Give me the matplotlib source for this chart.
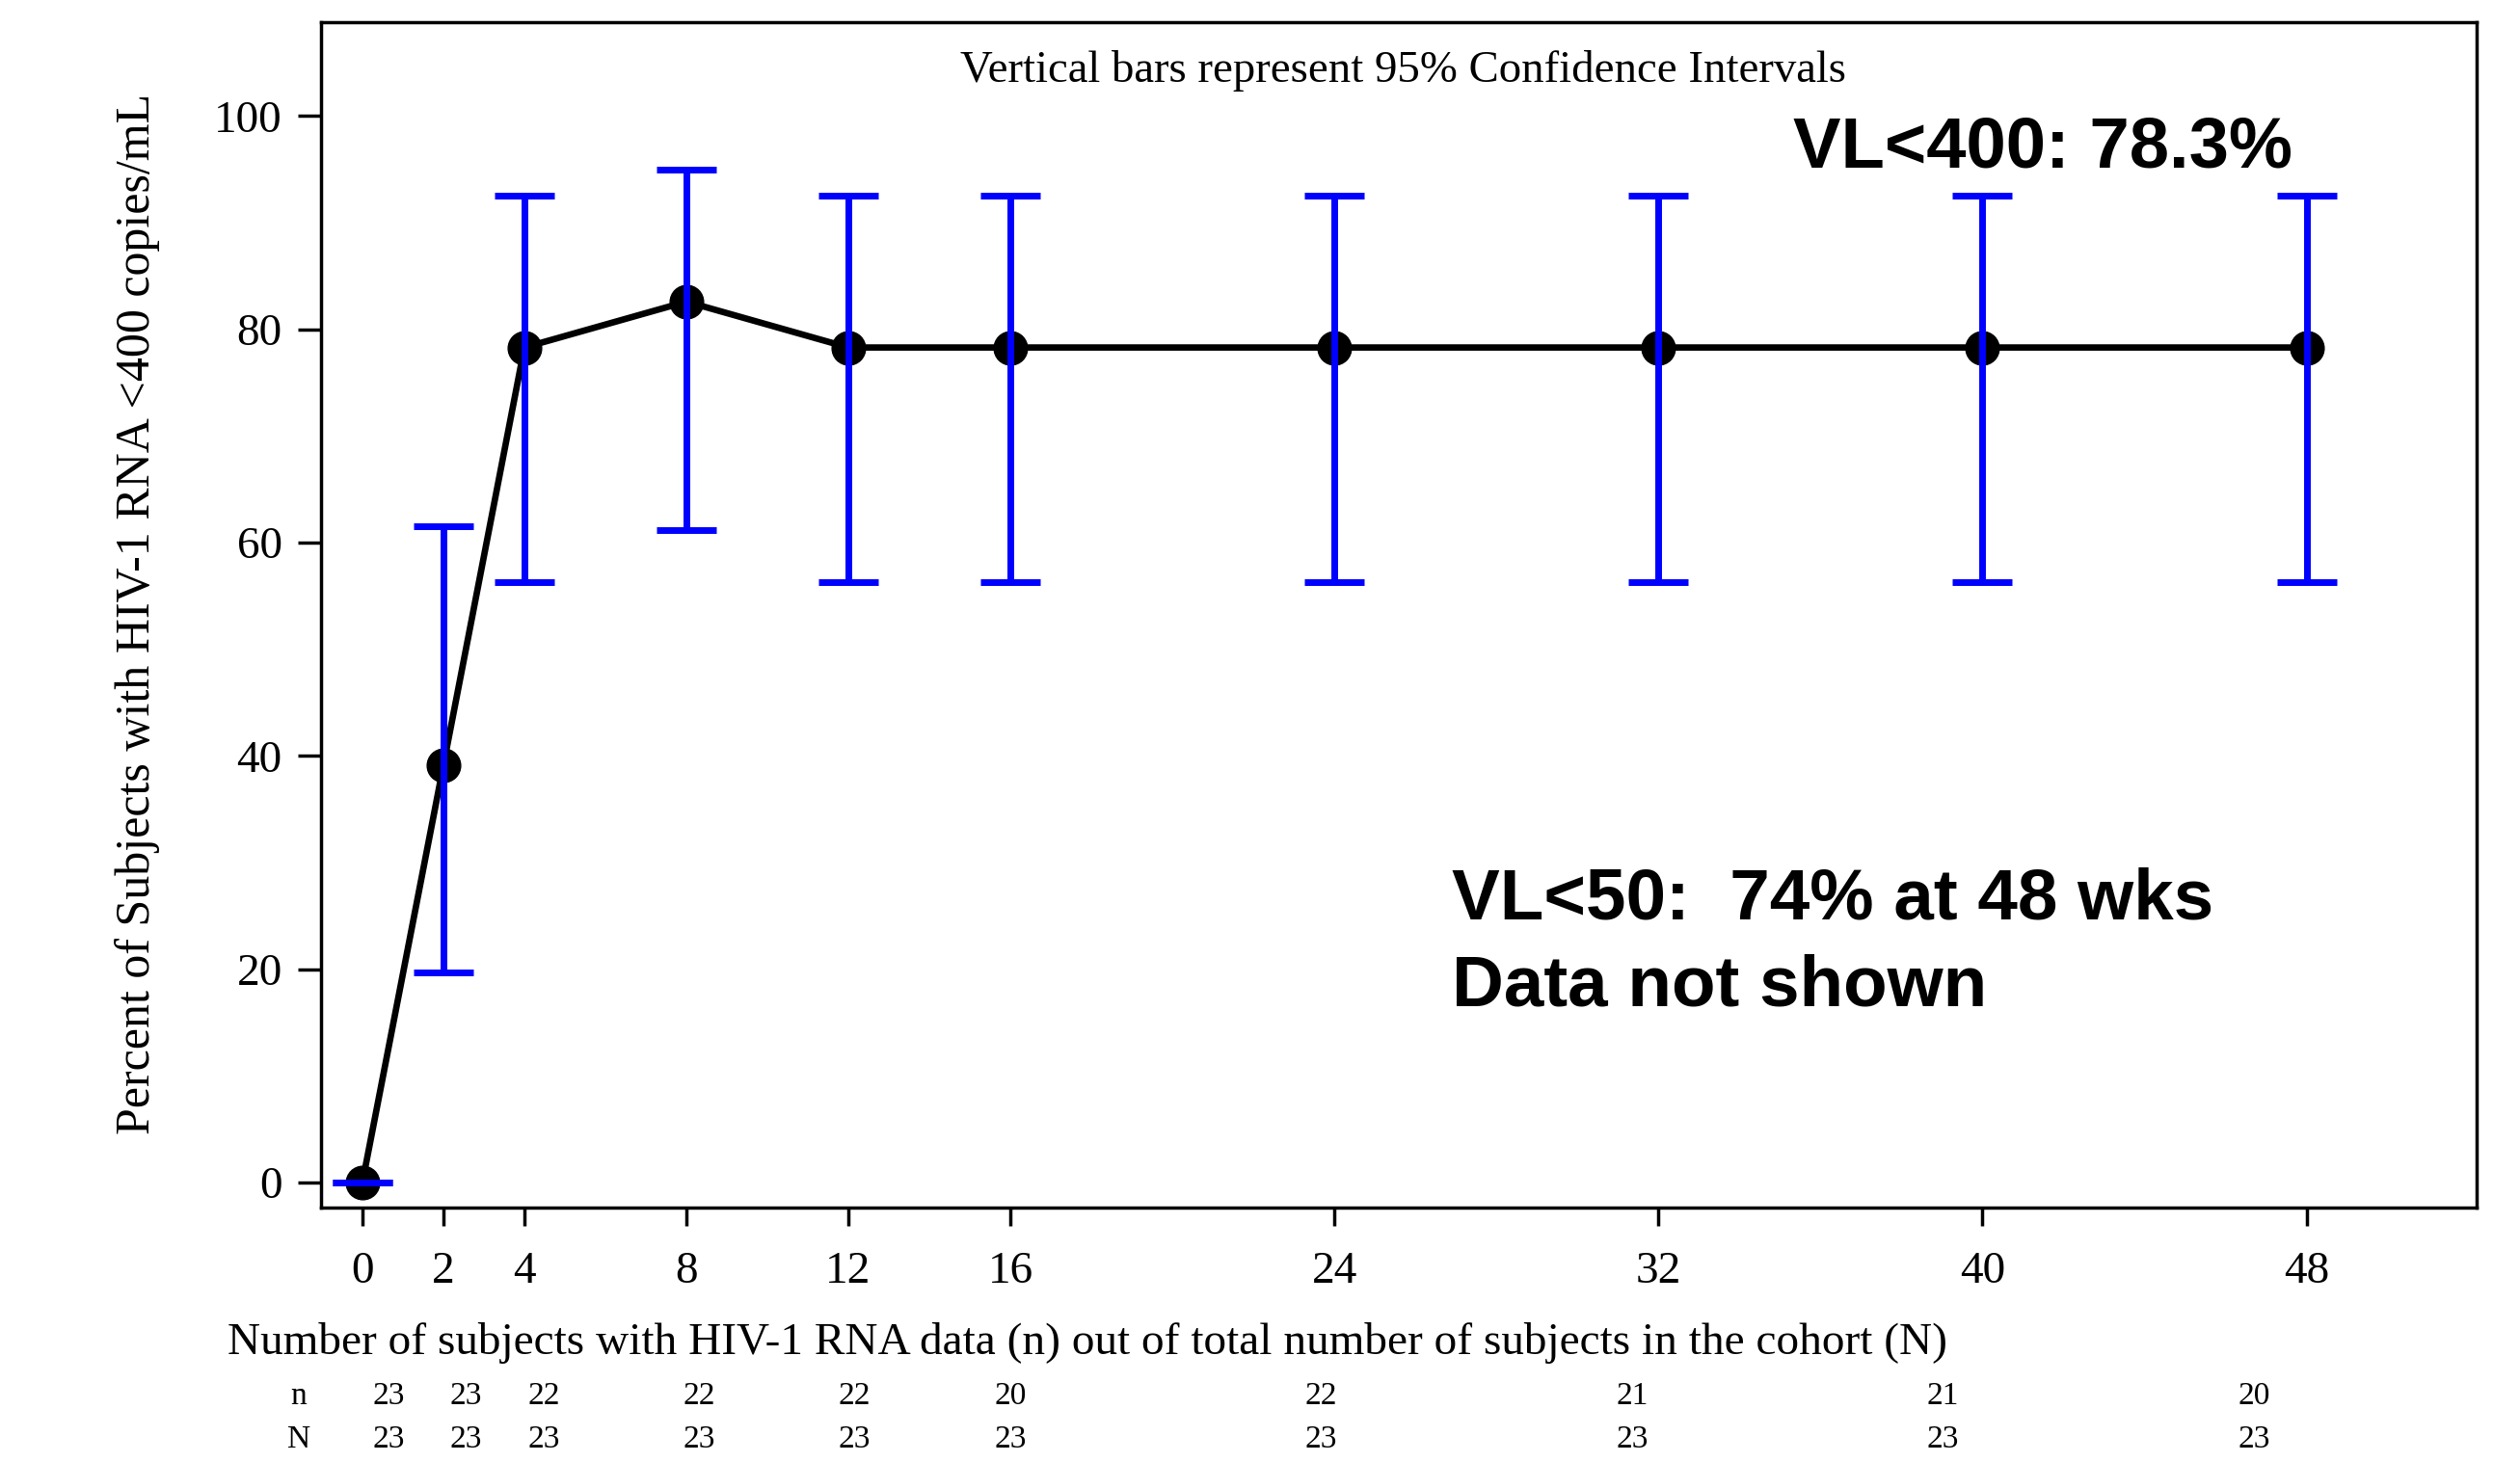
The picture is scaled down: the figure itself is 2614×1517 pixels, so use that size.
import numpy as np
import matplotlib
matplotlib.use('Agg')
import matplotlib.pyplot as plt
from matplotlib.transforms import blended_transform_factory

# weeks on study and percent of subjects with HIV-1 RNA < 400 copies/mL
weeks = [0, 2, 4, 8, 12, 16, 24, 32, 40, 48]
pct = [0.0, 39.1, 78.3, 82.6, 78.3, 78.3, 78.3, 78.3, 78.3, 78.3]
ci_low = [0.0, 19.7, 56.3, 61.2, 56.3, 56.3, 56.3, 56.3, 56.3, 56.3]
ci_high = [0.0, 61.5, 92.5, 95.0, 92.5, 92.5, 92.5, 92.5, 92.5, 92.5]

# subjects with data (n) out of cohort size (N)
n_data = [23, 23, 22, 22, 22, 20, 22, 21, 21, 20]
n_total = [23, 23, 23, 23, 23, 23, 23, 23, 23, 23]

serif = 'Liberation Serif'
sans = 'Liberation Sans'

fig = plt.figure(figsize=(26.14, 15.17), dpi=100)
ax = fig.add_axes([0.1274, 0.174, 0.9828 - 0.1274, 0.9848 - 0.174])

yerr = [np.array(pct) - np.array(ci_low), np.array(ci_high) - np.array(pct)]

ax.plot(weeks, pct, color='black', lw=4.8, marker='o', markersize=25, zorder=2)
ax.errorbar(weeks, pct, yerr=yerr, fmt='none', ecolor='#0000ff',
            elinewidth=5, capsize=22, capthick=5, zorder=3)

ax.set_xlim(-1.02, 52.2)
ax.set_ylim(-2.35, 108.8)
ax.set_xticks(weeks)
ax.set_yticks([0, 20, 40, 60, 80, 100])

for s in ax.spines.values():
    s.set_linewidth(2.5)
ax.tick_params(axis='x', length=14, width=2.5, pad=19, labelsize=34)
ax.tick_params(axis='y', length=17, width=2.5, pad=12, labelsize=34)
for lab in ax.get_xticklabels() + ax.get_yticklabels():
    lab.set_fontfamily(serif)

ax.text(0.502, 0.959, 'Vertical bars represent 95% Confidence Intervals',
        transform=ax.transAxes, ha='center', va='center',
        fontsize=33.7, family=serif)

# annotations
ax.text(1860 / 2614, 1 - 173 / 1517, 'VL<400: 78.3%', transform=fig.transFigure,
        ha='left', va='baseline', fontsize=53.5, fontweight='bold', family=sans)
ax.text(1506 / 2614, 1 - 953 / 1517, 'VL<50:  74% at 48 wks', transform=fig.transFigure,
        ha='left', va='baseline', fontsize=53.7, fontweight='bold', family=sans)
ax.text(1506 / 2614, 1 - 1043 / 1517, 'Data not shown', transform=fig.transFigure,
        ha='left', va='baseline', fontsize=53.7, fontweight='bold', family=sans)

fig.text(0.0547, 0.58, 'Percent of Subjects with HIV-1 RNA <400 copies/mL',
         rotation=90, ha='center', va='center', fontsize=36, family=serif)
fig.text(0.4315, 0.0817,
         'Number of subjects with HIV-1 RNA data (n) out of total number of subjects in the cohort (N)',
         ha='center', va='center', fontsize=34, family=serif)

# n / N table under the axis
trans = blended_transform_factory(ax.transData, fig.transFigure)
ax.text(-1.57, 0.0448, 'n', transform=trans, ha='center', va='center',
        fontsize=24, family=serif, clip_on=False)
ax.text(-1.57, 0.0152, 'N', transform=trans, ha='center', va='center',
        fontsize=24, family=serif, clip_on=False)
for w, a, b in zip(weeks, n_data, n_total):
    xt = 0.64 + 0.9596 * w
    ax.text(xt, 0.0448, str(a), transform=trans, ha='center', va='center',
            fontsize=24, family=serif, clip_on=False)
    ax.text(xt, 0.0152, str(b), transform=trans, ha='center', va='center',
            fontsize=24, family=serif, clip_on=False)

fig.savefig('out.png', dpi=100)
